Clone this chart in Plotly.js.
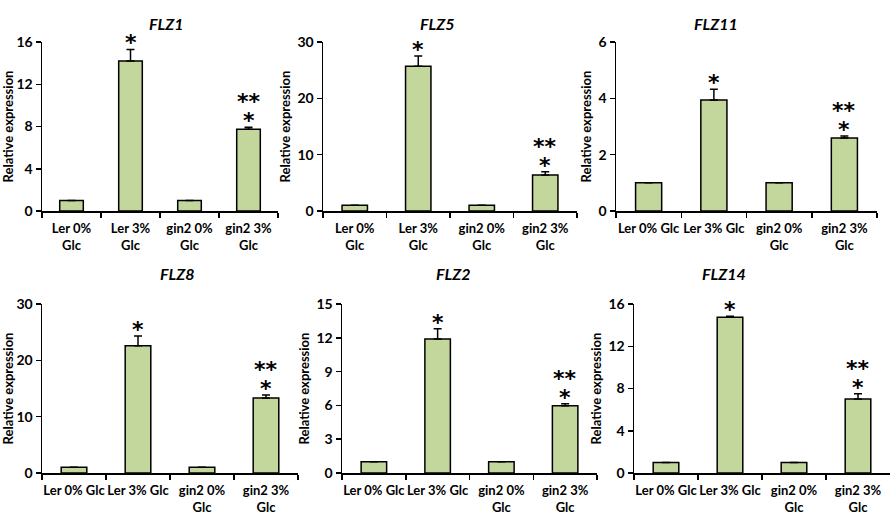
<!DOCTYPE html>
<html>
<head>
<meta charset="utf-8">
<script src="https://cdn.plot.ly/plotly-3.0.1.min.js"></script>
<style>
  body { margin: 0; background: #fff; }
  #chart { width: 892px; height: 517px; }
</style>
</head>
<body>
<div id="chart"></div>
<script>
// DATA
var labelsWrapped = ['Ler 0%<br>Glc', 'Ler 3%<br>Glc', 'gin2 0%<br>Glc', 'gin2 3%<br>Glc'];
var labelsWide = ['Ler 0% Glc', 'Ler 3% Glc', 'gin2 0%<br>Glc', 'gin2 3%<br>Glc'];

var genes = ['FLZ1', 'FLZ5', 'FLZ11', 'FLZ8', 'FLZ2', 'FLZ14'];

var flz1 = [1.0, 14.2, 1.0, 7.73];
var flz1Err = [0, 1.1, 0, 0.2];
var flz5 = [1.0, 25.7, 1.0, 6.4];
var flz5Err = [0, 1.8, 0, 0.55];
var flz11 = [1.0, 3.94, 1.0, 2.59];
var flz11Err = [0, 0.38, 0, 0.07];
var flz8 = [1.0, 22.6, 1.0, 13.3];
var flz8Err = [0, 1.7, 0, 0.55];
var flz2 = [1.0, 11.9, 1.0, 5.97];
var flz2Err = [0, 0.9, 0, 0.18];
var flz14 = [1.0, 14.74, 1.0, 7.0];
var flz14Err = [0, 0.1, 0, 0.5];

// significance marks: lower row (*) and upper row (**)
var signifLow = ['', '*', '', '*'];
var signifHigh = ['', '', '', '**'];

var yMax = [16, 30, 6, 30, 15, 16];
var yStep = [4, 10, 2, 10, 3, 4];

// PANEL SETUP
var values = [flz1, flz5, flz11, flz8, flz2, flz14];
var errors = [flz1Err, flz5Err, flz11Err, flz8Err, flz2Err, flz14Err];
var labels = [labelsWrapped, labelsWrapped, labelsWide, labelsWide, labelsWide, labelsWide];

var W = 892, H = 517;
// plot boxes in pixels: [left, right, top, bottom]
var boxes = [
  [42, 278, 42, 211],
  [323, 577, 42, 211],
  [616, 877, 42, 211],
  [42, 298, 304, 473],
  [342, 597, 304, 473],
  [634, 890, 304, 473]
];
var titleX = [147, 437, 740, 158, 453, 748];
var titleY = [12, 12, 12, 273, 273, 273];

var FONT = 'Lato, "Open Sans", sans-serif';
var STAR = '"DejaVu Sans", sans-serif';
var BAR = '#c3d69b';

var data = [];
var layout = {
  width: W, height: H,
  margin: {l: 0, r: 0, t: 0, b: 0},
  paper_bgcolor: '#fff',
  plot_bgcolor: '#fff',
  showlegend: false,
  font: {family: FONT, color: '#000', size: 13},
  annotations: []
};

for (var p = 0; p < genes.length; p++) {
  var sfx = p === 0 ? '' : String(p + 1);
  var b = boxes[p];

  data.push({
    type: 'bar',
    x: labels[p],
    y: values[p],
    xaxis: 'x' + sfx,
    yaxis: 'y' + sfx,
    width: 0.4,
    marker: {color: BAR, line: {color: '#000', width: 1.5}},
    error_y: {
      type: 'data',
      symmetric: false,
      array: errors[p],
      arrayminus: [0, 0, 0, 0],
      color: '#000',
      thickness: 1.5,
      width: 4
    },
    hoverinfo: 'none'
  });

  layout['xaxis' + sfx] = {
    domain: [b[0] / W, b[1] / W],
    anchor: 'y' + sfx,
    type: 'category',
    range: [-0.5, 3.5],
    showline: true, linecolor: '#000', linewidth: 1.5,
    ticks: 'outside', tickson: 'boundaries', ticklen: 5, tickwidth: 1.5, tickcolor: '#000',
    tickangle: 0,
    ticklabelstandoff: 5,
    showgrid: false, zeroline: false,
    tickfont: {family: FONT, size: 13, weight: 'bold'},
    fixedrange: true
  };
  layout['yaxis' + sfx] = {
    domain: [1 - b[3] / H, 1 - b[2] / H],
    anchor: 'x' + sfx,
    range: [0, yMax[p]],
    dtick: yStep[p],
    tick0: 0,
    showline: true, linecolor: '#000', linewidth: 1.5,
    ticks: 'outside', ticklen: 5, tickwidth: 1.5, tickcolor: '#000',
    showgrid: false, zeroline: false,
    tickfont: {family: FONT, size: 14, weight: 'bold'},
    title: {text: 'Relative expression', font: {family: FONT, size: 13, weight: 'bold'}, standoff: 4},
    fixedrange: true
  };

  // gene name
  layout.annotations.push({
    xref: 'paper', yref: 'paper',
    x: titleX[p] / W, y: 1 - titleY[p] / H,
    text: '<b><i>' + genes[p] + '</i></b>',
    showarrow: false,
    font: {family: FONT, size: 16}
  });

  // significance stars above the error bars
  for (var i = 0; i < 4; i++) {
    var barTop = values[p][i] + errors[p][i];
    if (signifLow[i]) {
      layout.annotations.push({
        xref: 'x' + sfx, yref: 'y' + sfx,
        x: labels[p][i], y: barTop,
        text: signifLow[i],
        showarrow: false, yanchor: 'bottom', yshift: -8,
        font: {family: STAR, size: 22, weight: 'bold'}
      });
    }
    if (signifHigh[i]) {
      layout.annotations.push({
        xref: 'x' + sfx, yref: 'y' + sfx,
        x: labels[p][i], y: barTop,
        text: signifHigh[i],
        showarrow: false, yanchor: 'bottom', yshift: 11,
        font: {family: STAR, size: 22, weight: 'bold'}
      });
    }
  }
}

Plotly.newPlot('chart', data, layout, {displayModeBar: false, staticPlot: true});
</script>
</body>
</html>
